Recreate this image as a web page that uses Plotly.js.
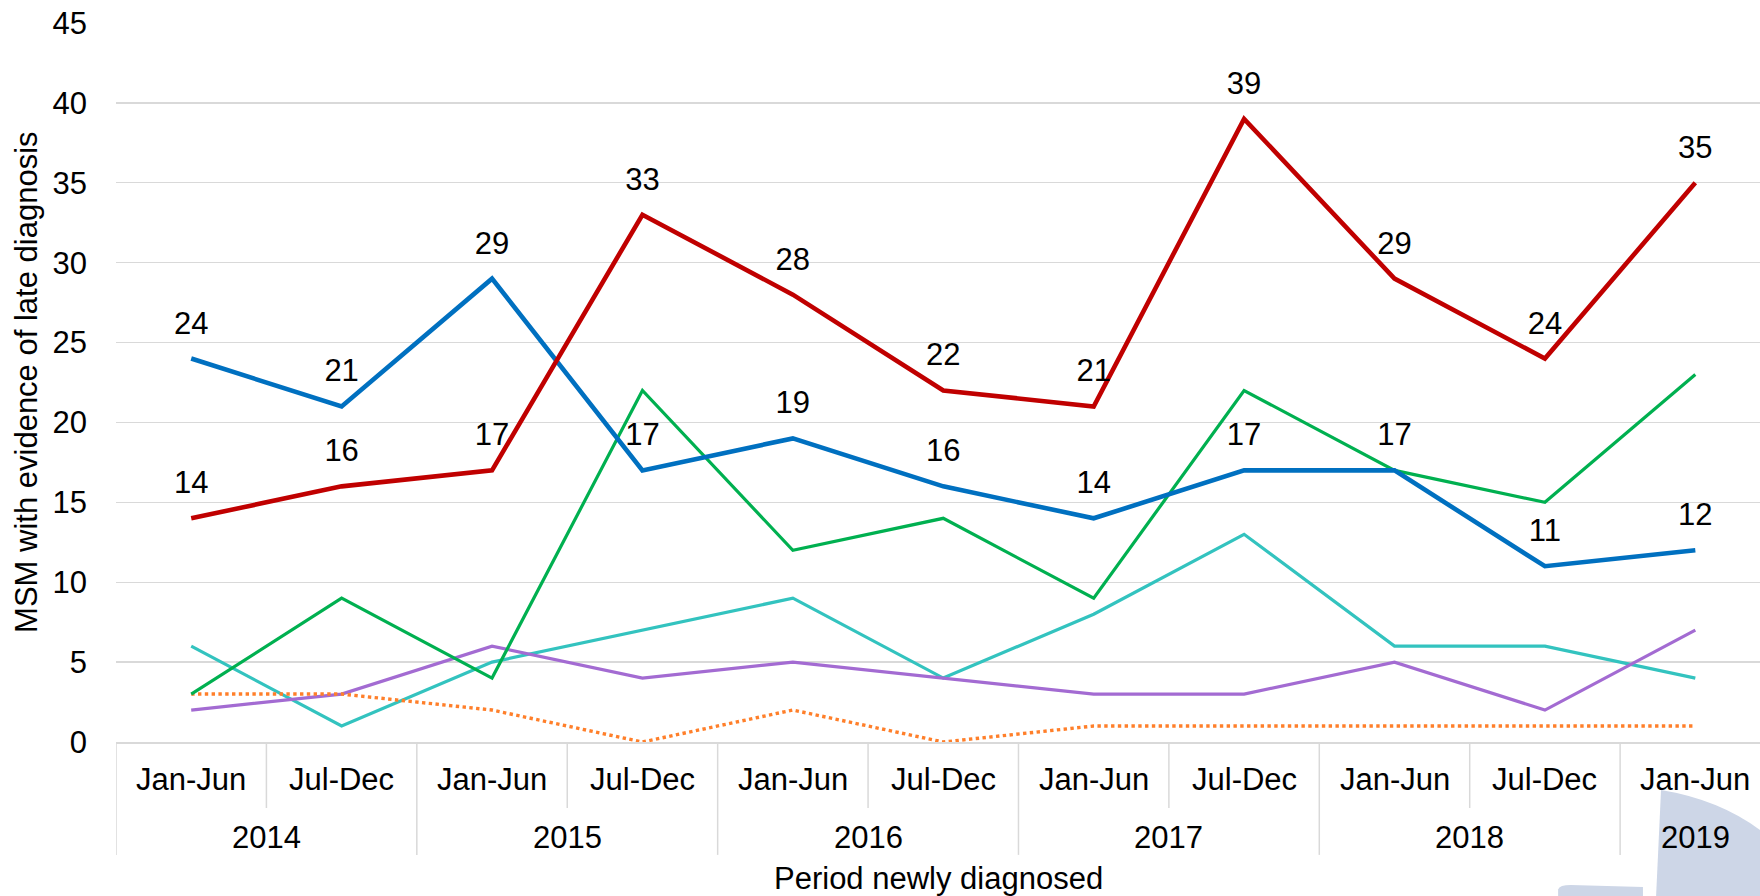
<!DOCTYPE html>
<html>
<head>
<meta charset="utf-8">
<script src="https://cdn.plot.ly/plotly-3.0.1.min.js"></script>
<style>
  html, body { margin: 0; padding: 0; background: #ffffff; }
  #chart { width: 1760px; height: 896px; }
</style>
</head>
<body>
<div id="chart"></div>
<script>
// ---- data ----
const years  = ['2014','2014','2015','2015','2016','2016','2017','2017','2018','2018','2019'];
const halves = ['Jan-Jun','Jul-Dec','Jan-Jun','Jul-Dec','Jan-Jun','Jul-Dec','Jan-Jun','Jul-Dec','Jan-Jun','Jul-Dec','Jan-Jun'];
const redSeries    = [14, 16, 17, 33, 28, 22, 21, 39, 29, 24, 35];
const blueSeries   = [24, 21, 29, 17, 19, 16, 14, 17, 17, 11, 12];
const greenSeries  = [3, 9, 4, 22, 12, 14, 9, 22, 17, 15, 23];
const tealSeries   = [6, 1, 5, 7, 9, 4, 8, 13, 6, 6, 4];
const purpleSeries = [2, 3, 6, 4, 5, 4, 3, 3, 5, 2, 7];
const orangeSeries = [3, 3, 2, 0, 2, 0, 1, 1, 1, 1, 1];
const yTicks = [0, 5, 10, 15, 20, 25, 30, 35, 40, 45];
const xTitle = 'Period newly diagnosed';
const yTitle = 'MSM with evidence of late diagnosis';

// ---- build ----
const periods = halves.map((h, i) => years[i] + ' ' + h);
const FONT = 'Liberation Sans, Arial, sans-serif';
const FS = 31;

function lineTrace(y, color, width, dash, labels) {
  const t = {
    x: periods, y: y, type: 'scatter',
    mode: labels ? 'lines+markers+text' : 'lines',
    line: { color: color, width: width, dash: dash || 'solid' },
    hoverinfo: 'x+y', showlegend: false
  };
  if (labels) {
    t.text = y.map(String);
    t.textposition = 'top center';
    t.textfont = { family: FONT, size: FS, color: '#000000' };
    t.marker = { size: 26, color: 'rgba(0,0,0,0)' };
    t.cliponaxis = false;
  }
  return t;
}

const data = [
  lineTrace(tealSeries,   '#33C3BF', 3.2),
  lineTrace(purpleSeries, '#A36BD2', 3.2),
  lineTrace(orangeSeries, '#FF7F2A', 3.4, 'dot'),
  lineTrace(greenSeries,  '#00B050', 3.2),
  lineTrace(blueSeries,   '#0070C0', 4.6, 'solid', true),
  lineTrace(redSeries,    '#C00000', 4.6, 'solid', true)
];

// axis label annotations and dividers
const annotations = [];
halves.forEach((h, i) => {
  annotations.push({
    xref: 'x', yref: 'paper', x: i, y: -0.0515, text: h, showarrow: false,
    xanchor: 'center', yanchor: 'middle',
    font: { family: FONT, size: FS, color: '#000000' }
  });
});
const uniqueYears = years.filter((y, i) => years.indexOf(y) === i);
uniqueYears.forEach(yr => {
  const idx = years.map((y, i) => y === yr ? i : -1).filter(i => i >= 0);
  const c = idx.reduce((a, b) => a + b, 0) / idx.length;
  annotations.push({
    xref: 'x', yref: 'paper', x: c, y: -0.1322, text: yr, showarrow: false,
    xanchor: 'center', yanchor: 'middle',
    font: { family: FONT, size: FS, color: '#000000' }
  });
});
annotations.push({
  xref: 'paper', yref: 'paper', x: 0.5, y: -0.1905, text: xTitle, showarrow: false,
  xanchor: 'center', yanchor: 'middle',
  font: { family: FONT, size: FS, color: '#000000' }
});
annotations.push({
  xref: 'paper', yref: 'paper', x: -0.0545, y: 0.5, text: yTitle, showarrow: false,
  textangle: -90, xanchor: 'center', yanchor: 'middle',
  font: { family: FONT, size: FS, color: '#000000' }
});

const shapes = [];
// watermark (decorative background shape, bottom-right)
shapes.push({
  type: 'path', xref: 'paper', yref: 'paper', layer: 'below',
  path: 'M 0.9398 -0.0668 Q 0.975 -0.08 1.0 -0.1224 L 1.0 -0.2143 L 0.9368 -0.2143 Z',
  fillcolor: '#CDD6E7', line: { width: 0 }
});
shapes.push({
  type: 'path', xref: 'paper', yref: 'paper', layer: 'below',
  path: 'M 0.8772 -0.2143 L 0.8772 -0.205 Q 0.878 -0.199 0.885 -0.199 L 0.9288 -0.2015 L 0.9288 -0.2143 Z',
  fillcolor: '#CDD6E7', line: { width: 0 }
});
for (let i = 0; i < years.length; i++) {
  const b = i - 0.5;
  const isYearEdge = (i === 0) || years[i] !== years[i - 1];
  shapes.push({
    type: 'line', xref: 'x', yref: 'paper', x0: b, x1: b, y0: 0,
    y1: isYearEdge ? -0.157 : -0.0918,
    line: { color: '#D9D9D9', width: 1.5 }
  });
}

const layout = {
  width: 1760, height: 896,
  margin: { l: 116, r: 0, t: 23, b: 154, pad: 0 },
  paper_bgcolor: '#ffffff', plot_bgcolor: 'rgba(0,0,0,0)',
  showlegend: false,
  font: { family: FONT, size: FS, color: '#000000' },
  xaxis: {
    type: 'category', range: [-0.5, 10.43],
    showticklabels: false, ticks: '', showgrid: false, zeroline: false,
    showline: true, linecolor: '#D9D9D9', linewidth: 1.5, fixedrange: true
  },
  yaxis: {
    range: [0, 45], tickvals: yTicks, ticktext: yTicks.map(String),
    ticks: '', showgrid: true, gridcolor: '#D9D9D9', gridwidth: 1.3,
    zeroline: false, showline: false, ticklabelstandoff: 28,
    tickfont: { family: FONT, size: FS, color: '#000000' }, fixedrange: true
  },
  annotations: annotations,
  shapes: shapes
};

Plotly.newPlot('chart', data, layout, { displayModeBar: false, staticPlot: true });
</script>
</body>
</html>
